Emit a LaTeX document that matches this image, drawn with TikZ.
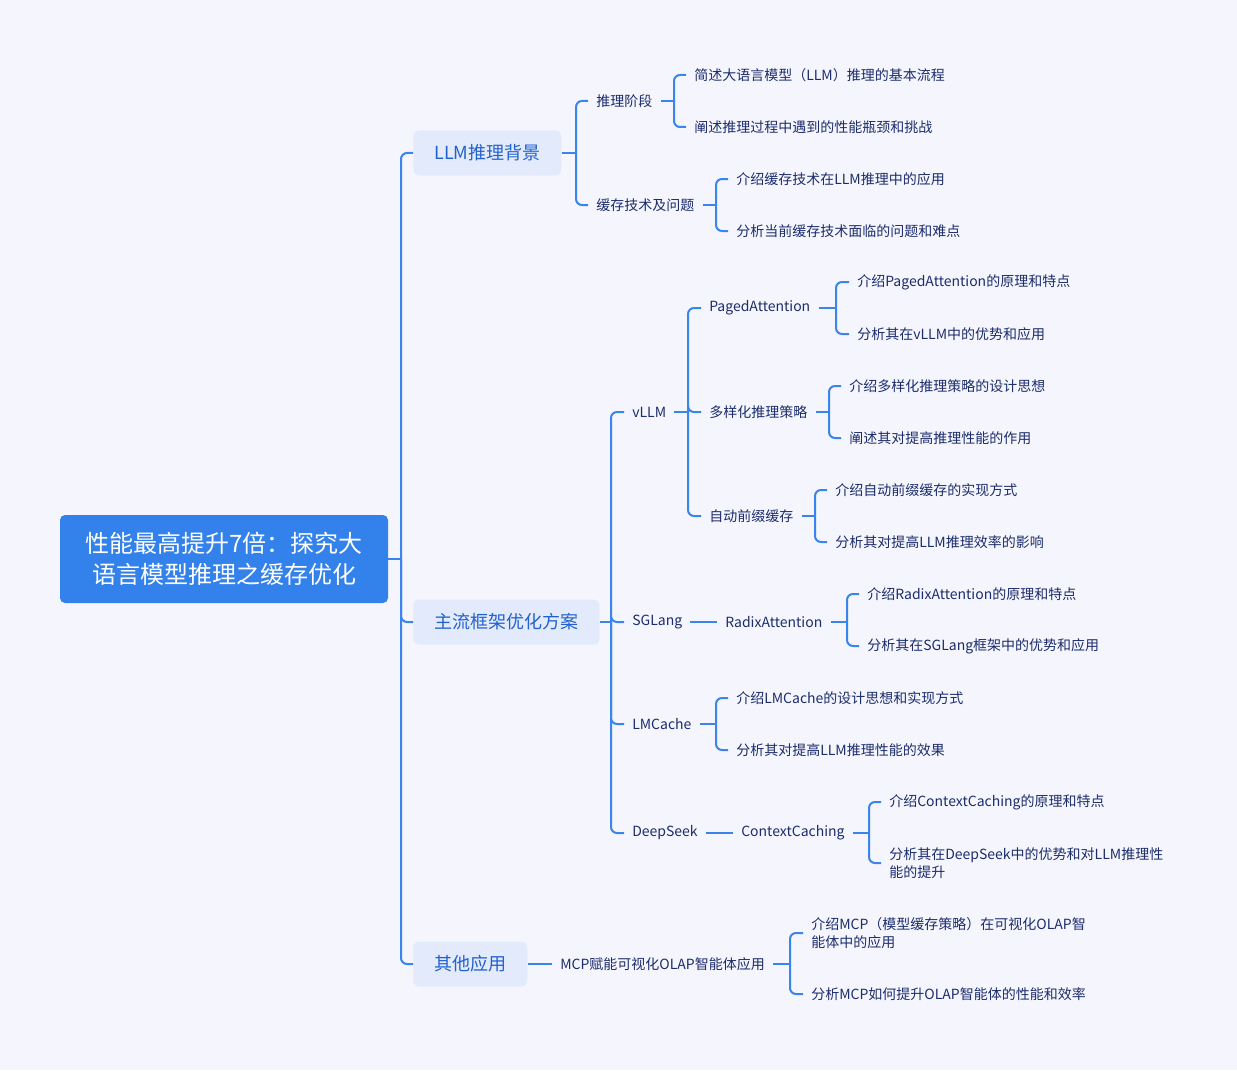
\documentclass[tikz,border=0pt]{standalone}
\usepackage{fontspec}
\setmainfont{Noto Sans CJK SC}
\usetikzlibrary{calc}
\definecolor{paper}{HTML}{F5F6FD}
\definecolor{rootblue}{HTML}{3381EA}
\definecolor{boxblue}{HTML}{E2EAFB}
\definecolor{textblue}{HTML}{2161CF}
\definecolor{navy}{HTML}{1C2C6C}
\definecolor{linkblue}{HTML}{3A84EE}
\tikzset{
	link/.style={line width=1.5pt, color=linkblue, rounded corners=4.5pt},
	rootbox/.style={fill=rootblue, rounded corners=3.75pt, text=white, minimum width=246pt, minimum height=66pt, align=center, font=\fontsize{18}{23.5}\selectfont},
	topic/.style={fill=boxblue, rounded corners=4.5pt, text=textblue, anchor=west, inner xsep=15.75pt, minimum height=33.75pt, font=\fontsize{13.5}{16}\selectfont},
	item/.style={text=navy, anchor=west, inner xsep=6pt, inner ysep=2pt, align=left, font=\fontsize{10.5}{13.5}\selectfont}
}
\def\forkto(#1:#2)#3{\coordinate (#1-t) at (#2,0); \draw[link] (#1.east) -- (#1.east -| #1-t); \foreach \c in {#3} \draw[link] (#1.east -| #1-t) |- (\c.west);}
\begin{document}
\begin{tikzpicture}[x=0.75pt,y=-0.75pt]
			%%%%% START %%%%%
			
			\fill[paper] (0, 0) rectangle (1237, 1070);
			\useasboundingbox (0, 0) rectangle (1237, 1070);
			
			\node[rootbox] (root) at (224, 559) {性能最高提升7倍：探究大\\语言模型推理之缓存优化};
			
			\node[topic] (bg) at (413, 153) {LLM推理背景};
			\node[topic] (main) at (413, 622) {主流框架优化方案};
			\node[topic] (other) at (413, 964) {其他应用};
			
			\node[item] (stage) at (588, 101) {推理阶段};
			\node[item] (cache) at (588, 205) {缓存技术及问题};
			\node[item] (stage1) at (686, 75) {简述大语言模型（LLM）推理的基本流程};
			\node[item] (stage2) at (686, 127) {阐述推理过程中遇到的性能瓶颈和挑战};
			\node[item] (cache1) at (728, 179) {介绍缓存技术在LLM推理中的应用};
			\node[item] (cache2) at (728, 231) {分析当前缓存技术面临的问题和难点};
			
			\node[item] (vllm) at (624, 412) {vLLM};
			\node[item] (sglang) at (624, 622) {SGLang};
			\node[item] (lmc) at (624, 724) {LMCache};
			\node[item] (ds) at (624, 833) {DeepSeek};
			
			\node[item] (paged) at (701, 308) {PagedAttention};
			\node[item] (multi) at (701, 412) {多样化推理策略};
			\node[item] (prefix) at (701, 516) {自动前缀缓存};
			\node[item] (paged1) at (849, 282) {介绍PagedAttention的原理和特点};
			\node[item] (paged2) at (849, 334) {分析其在vLLM中的优势和应用};
			\node[item] (multi1) at (841, 386) {介绍多样化推理策略的设计思想};
			\node[item] (multi2) at (841, 438) {阐述其对提高推理性能的作用};
			\node[item] (prefix1) at (827, 490) {介绍自动前缀缓存的实现方式};
			\node[item] (prefix2) at (827, 542) {分析其对提高LLM推理效率的影响};
			
			\node[item] (radix) at (717, 622) {RadixAttention};
			\node[item] (radix1) at (859, 594) {介绍RadixAttention的原理和特点};
			\node[item] (radix2) at (859, 646) {分析其在SGLang框架中的优势和应用};
			
			\node[item] (lmc1) at (728, 698) {介绍LMCache的设计思想和实现方式};
			\node[item] (lmc2) at (728, 750) {分析其对提高LLM推理性能的效果};
			
			\node[item] (ctx) at (733, 833) {ContextCaching};
			\node[item] (ctx1) at (881, 802) {介绍ContextCaching的原理和特点};
			\node[item] (ctx2) at (881, 863) {分析其在DeepSeek中的优势和对LLM推理性\\能的提升};
			
			\node[item] (mcp) at (552, 964) {MCP赋能可视化OLAP智能体应用};
			\node[item] (mcp1) at (803, 933) {介绍MCP（模型缓存策略）在可视化OLAP智\\能体中的应用};
			\node[item] (mcp2) at (803, 994) {分析MCP如何提升OLAP智能体的性能和效率};
			
			\forkto(root:401){bg,main,other}
			\forkto(bg:576){stage,cache}
			\forkto(stage:674){stage1,stage2}
			\forkto(cache:716){cache1,cache2}
			\forkto(main:611){vllm,sglang,lmc,ds}
			\forkto(vllm:688){paged,multi,prefix}
			\forkto(paged:836){paged1,paged2}
			\forkto(multi:829){multi1,multi2}
			\forkto(prefix:815){prefix1,prefix2}
			\forkto(radix:847){radix1,radix2}
			\forkto(lmc:716){lmc1,lmc2}
			\forkto(ctx:869){ctx1,ctx2}
			\forkto(mcp:790){mcp1,mcp2}
			
			\draw[link] (sglang) -- (radix);
			\draw[link] (ds) -- (ctx);
			\draw[link] (other) -- (mcp);
			
			%%%%% END %%%%%
		\end{tikzpicture}
\end{document}
